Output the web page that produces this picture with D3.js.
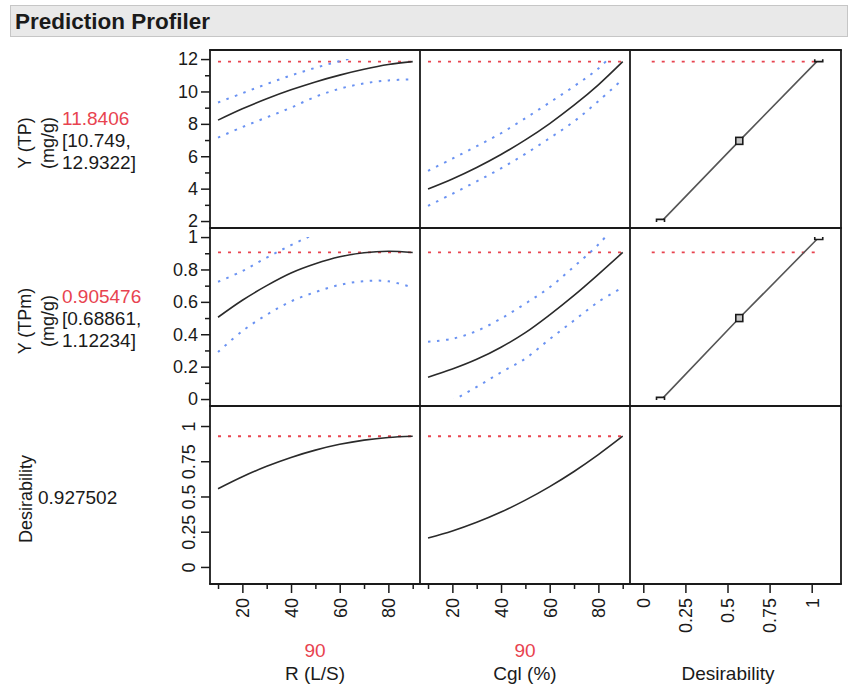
<!DOCTYPE html>
<html><head><meta charset="utf-8">
<script src="https://cdn.jsdelivr.net/npm/d3@7"></script>
<style>
body{margin:0;background:#fff;}
svg text{font-family:"Liberation Sans",Arial,sans-serif;fill:#1a1a1a;}
</style></head><body><svg id="c" width="851" height="691"></svg>
<script>
// ---------------- data ----------------
const title = "Prediction Profiler";
const factorNames = ["R (L/S)", "Cgl (%)"];
const factorCurrent = ["90", "90"];
const desAxisName = "Desirability";
const factorGrid = [10, 20, 30, 40, 50, 60, 70, 80, 90];
const factorTicksMajor = [20, 40, 60, 80];
const factorTicksMinor = [10, 30, 50, 70, 90];
const desTicks = [0, 0.25, 0.5, 0.75, 1];
const desTickLabels = ["0", "0.25", "0.5", "0.75", "1"];
const tpTicks = [2, 4, 6, 8, 10, 12];
const tpTicksMinor = [3, 5, 7, 9, 11];
const tpmTicks = [0, 0.2, 0.4, 0.6, 0.8, 1];
const tpmTickLabels = ["0", "0.2", "0.4", "0.6", "0.8", "1"];
const tpmTicksMinor = [0.1, 0.3, 0.5, 0.7, 0.9];

const responseNames = [["Y (TP)", "(mg/g)"], ["Y (TPm)", "(mg/g)"], ["Desirability"]];
const responseValue = ["11.8406", "0.905476", "0.927502"];
const responseCI = [["[10.749,", "12.9322]"], ["[0.68861,", "1.12234]"], []];
const currentY = [11.8406, 0.905476, 0.927502];

// Y (TP)
const tpVsR        = [8.23, 8.93, 9.55, 10.10, 10.59, 11.01, 11.37, 11.66, 11.84];
const tpVsRLower   = [7.15, 7.80, 8.40, 9.00, 9.67, 10.17, 10.50, 10.68, 10.75];
const tpVsRUpper   = [9.32, 9.89, 10.46, 10.99, 11.46, 11.87, 12.24, 12.56, 12.93];
const tpVsCgl      = [3.98, 4.60, 5.31, 6.11, 7.01, 8.02, 9.15, 10.41, 11.84];
const tpVsCglLower = [2.94, 3.68, 4.45, 5.25, 6.15, 7.12, 8.15, 9.40, 10.75];
const tpVsCglUpper = [5.10, 5.85, 6.62, 7.42, 8.35, 9.32, 10.32, 11.42, 12.93];
// Y (TPm)
const tpmVsR        = [0.505, 0.61, 0.70, 0.778, 0.835, 0.878, 0.903, 0.912, 0.905];
const tpmVsRLower   = [0.29, 0.42, 0.52, 0.603, 0.66, 0.705, 0.728, 0.727, 0.689];
const tpmVsRUpper   = [0.724, 0.79, 0.873, 0.95, 1.02, 1.08, 1.12, 1.14, 1.122];
const tpmVsCgl      = [0.135, 0.185, 0.245, 0.32, 0.41, 0.52, 0.64, 0.77, 0.905];
const tpmVsCglLower = [-0.09, -0.01, 0.075, 0.165, 0.25, 0.37, 0.485, 0.60, 0.689];
const tpmVsCglUpper = [0.354, 0.372, 0.42, 0.497, 0.589, 0.69, 0.818, 0.954, 1.122];
// Desirability
const desVsR   = [0.555, 0.640, 0.714, 0.777, 0.829, 0.870, 0.900, 0.919, 0.9275];
const desVsCgl = [0.205, 0.255, 0.3165, 0.3895, 0.474, 0.57, 0.6775, 0.797, 0.9275];
// desirability functions (handles: low, middle, high)
const desFnD   = [0.12, 0.57, 1.03];
const desFnTP  = [2.1, 6.95, 11.84];
const desFnTPm = [0.01, 0.50, 0.985];
const desRefRange = [0.05, 1.04];

// ---------------- layout ----------------
const colX = [210, 420, 630, 841];
const rowY = [50, 228, 406, 584];
const RED = "#e8434f", BLUE = "#6a92f2", INK = "#1a1a1a";

const svg = d3.select("#c");

// header
svg.append("rect").attr("x", 10.5).attr("y", 5.5).attr("width", 837).attr("height", 31)
  .attr("fill", "#e9e9e9").attr("stroke", "#c6c6c6");
svg.append("text").attr("x", 15).attr("y", 29).attr("font-size", 22.5).attr("font-weight", "bold").text(title);

// scales
const yScales = [
  d3.scaleLinear().domain([1.57, 12.56]).range([rowY[1], rowY[0]]),
  d3.scaleLinear().domain([-0.043, 1.056]).range([rowY[2], rowY[1]]),
  d3.scaleLinear().domain([-0.121, 1.142]).range([rowY[3], rowY[2]])
];
const xScales = [
  d3.scaleLinear().domain([6.7, 93.0]).range([colX[0], colX[1]]),
  d3.scaleLinear().domain([6.7, 93.0]).range([colX[1], colX[2]]),
  d3.scaleLinear().domain([-0.079, 1.174]).range([colX[2], colX[3]])
];
const clipRange = [[2, 12], [0, 1], [-0.121, 1.142]];

// clip paths
const defs = svg.append("defs");
for (let r = 0; r < 3; r++) for (let c = 0; c < 3; c++) {
  const y = yScales[r];
  defs.append("clipPath").attr("id", `clip${r}${c}`).append("rect")
    .attr("x", colX[c]).attr("width", colX[c + 1] - colX[c])
    .attr("y", y(clipRange[r][1])).attr("height", y(clipRange[r][0]) - y(clipRange[r][1]));
}

const seriesGrid = [
  [[tpVsR, tpVsRLower, tpVsRUpper], [tpVsCgl, tpVsCglLower, tpVsCglUpper]],
  [[tpmVsR, tpmVsRLower, tpmVsRUpper], [tpmVsCgl, tpmVsCglLower, tpmVsCglUpper]],
  [[desVsR], [desVsCgl]]
];

for (let r = 0; r < 3; r++) {
  const y = yScales[r];
  for (let c = 0; c < 2; c++) {
    const x = xScales[c];
    const g = svg.append("g").attr("clip-path", `url(#clip${r}${c})`);
    g.append("line").attr("x1", x(factorGrid[0])).attr("x2", x(factorGrid[factorGrid.length - 1]))
      .attr("y1", y(currentY[r])).attr("y2", y(currentY[r]))
      .attr("stroke", RED).attr("stroke-width", 1.8).attr("stroke-dasharray", "3,7");
    const line = d3.line().x((d, i) => x(factorGrid[i])).y(d => y(d)).curve(d3.curveCatmullRom);
    const s = seriesGrid[r][c];
    if (s[1]) {
      [s[1], s[2]].forEach(arr => g.append("path").attr("d", line(arr)).attr("fill", "none")
        .attr("stroke", BLUE).attr("stroke-width", 2).attr("stroke-dasharray", "2.5,6.5"));
    }
    g.append("path").attr("d", line(s[0])).attr("fill", "none")
      .attr("stroke", "#2a2a2a").attr("stroke-width", 1.6);
  }
  if (r < 2) {
    const x = xScales[2];
    const vals = r === 0 ? desFnTP : desFnTPm;
    const g = svg.append("g");
    g.append("line").attr("x1", x(desRefRange[0])).attr("x2", x(desRefRange[1]))
      .attr("y1", y(currentY[r])).attr("y2", y(currentY[r]))
      .attr("stroke", RED).attr("stroke-width", 1.8).attr("stroke-dasharray", "3,7");
    g.append("path").attr("d", d3.line().x((d, i) => x(desFnD[i])).y(d => y(d))(vals))
      .attr("fill", "none").attr("stroke", "#555").attr("stroke-width", 1.6);
    g.append("path").attr("transform", `translate(${x(desFnD[0]) - 3},${y(vals[0])})`)
      .attr("d", "M-4,2.5 V0 H4 V2.5").attr("fill", "none").attr("stroke", INK).attr("stroke-width", 1.6);
    g.append("path").attr("transform", `translate(${x(desFnD[2]) + 2},${y(vals[2])})`)
      .attr("d", "M-4,-2.5 V0 H4 V-2.5").attr("fill", "none").attr("stroke", INK).attr("stroke-width", 1.6);
    g.append("rect").attr("x", x(desFnD[1]) - 3.5).attr("y", y(vals[1]) - 3.5)
      .attr("width", 7).attr("height", 7).attr("fill", "#c8c8c8").attr("stroke", INK).attr("stroke-width", 1.6);
  }
}

// frame
const frame = svg.append("g").attr("stroke", INK).attr("stroke-width", 1.8);
colX.forEach(xv => frame.append("line").attr("x1", xv).attr("x2", xv).attr("y1", rowY[0]).attr("y2", rowY[3]));
rowY.forEach(yv => frame.append("line").attr("x1", colX[0] - 0.9).attr("x2", colX[3] + 0.9).attr("y1", yv).attr("y2", yv));

function styleAxis(g) {
  g.select(".domain").remove();
  g.selectAll("line").attr("stroke", INK).attr("stroke-width", 1.5);
  g.selectAll("text").attr("fill", INK).attr("font-size", 18)
    .attr("font-family", '"Liberation Sans",Arial,sans-serif');
}

// Y axes
const yAxisDefs = [
  {ticks: tpTicks, labels: tpTicks.map(String), minor: tpTicksMinor},
  {ticks: tpmTicks, labels: tpmTickLabels, minor: tpmTicksMinor},
  {ticks: desTicks, labels: desTickLabels, minor: []}
];
yAxisDefs.forEach((a, r) => {
  const g = svg.append("g").attr("transform", `translate(${colX[0]},0)`)
    .call(d3.axisLeft(yScales[r]).tickValues(a.ticks).tickSize(9).tickPadding(3)
      .tickFormat((d, i) => a.labels[i]));
  styleAxis(g);
  if (r === 2) {
    g.selectAll("text").attr("x", null).attr("dy", null).attr("text-anchor", "middle")
      .attr("transform", "translate(-15,0) rotate(-90)");
  }
  if (a.minor.length) {
    const gm = svg.append("g").attr("transform", `translate(${colX[0]},0)`)
      .call(d3.axisLeft(yScales[r]).tickValues(a.minor).tickSize(5).tickFormat(""));
    styleAxis(gm);
  }
});

// X axes
for (let c = 0; c < 3; c++) {
  const major = c < 2 ? factorTicksMajor : desTicks;
  const labels = c < 2 ? factorTicksMajor.map(String) : desTickLabels;
  const g = svg.append("g").attr("transform", `translate(0,${rowY[3]})`)
    .call(d3.axisBottom(xScales[c]).tickValues(major).tickSize(9).tickFormat((d, i) => labels[i]));
  styleAxis(g);
  g.selectAll("text").attr("y", null).attr("dy", "0.35em").attr("text-anchor", "end")
    .attr("transform", "translate(0,14) rotate(-90)");
  if (c < 2) {
    const gm = svg.append("g").attr("transform", `translate(0,${rowY[3]})`)
      .call(d3.axisBottom(xScales[c]).tickValues(factorTicksMinor).tickSize(5).tickFormat(""));
    styleAxis(gm);
  }
}

// factor labels at bottom
const bottomCenters = [315, 525, 728];
for (let c = 0; c < 2; c++) {
  svg.append("text").attr("x", bottomCenters[c]).attr("y", 657).attr("text-anchor", "middle")
    .attr("font-size", 19).style("fill", RED).text(factorCurrent[c]);
  svg.append("text").attr("x", bottomCenters[c]).attr("y", 680).attr("text-anchor", "middle")
    .attr("font-size", 19).text(factorNames[c]);
}
svg.append("text").attr("x", bottomCenters[2]).attr("y", 680).attr("text-anchor", "middle")
  .attr("font-size", 19).text(desAxisName);

// response labels on the left
for (let r = 0; r < 3; r++) {
  const cy = (rowY[r] + rowY[r + 1]) / 2;
  const names = responseNames[r];
  const baseX = names.length === 2 ? [31, 54] : [32];
  names.forEach((n, i) => {
    svg.append("text").attr("transform", `translate(${baseX[i]},${cy + 4}) rotate(-90)`)
      .attr("text-anchor", "middle").attr("font-size", 18).text(n);
  });
  if (responseCI[r].length) {
    svg.append("text").attr("x", 62).attr("y", cy - 14).attr("font-size", 19).style("fill", RED).text(responseValue[r]);
    svg.append("text").attr("x", 62).attr("y", cy + 8).attr("font-size", 19).text(responseCI[r][0]);
    svg.append("text").attr("x", 62).attr("y", cy + 30).attr("font-size", 19).text(responseCI[r][1]);
  } else {
    svg.append("text").attr("x", 38).attr("y", cy + 9).attr("font-size", 19).text(responseValue[r]);
  }
}
</script></body></html>
